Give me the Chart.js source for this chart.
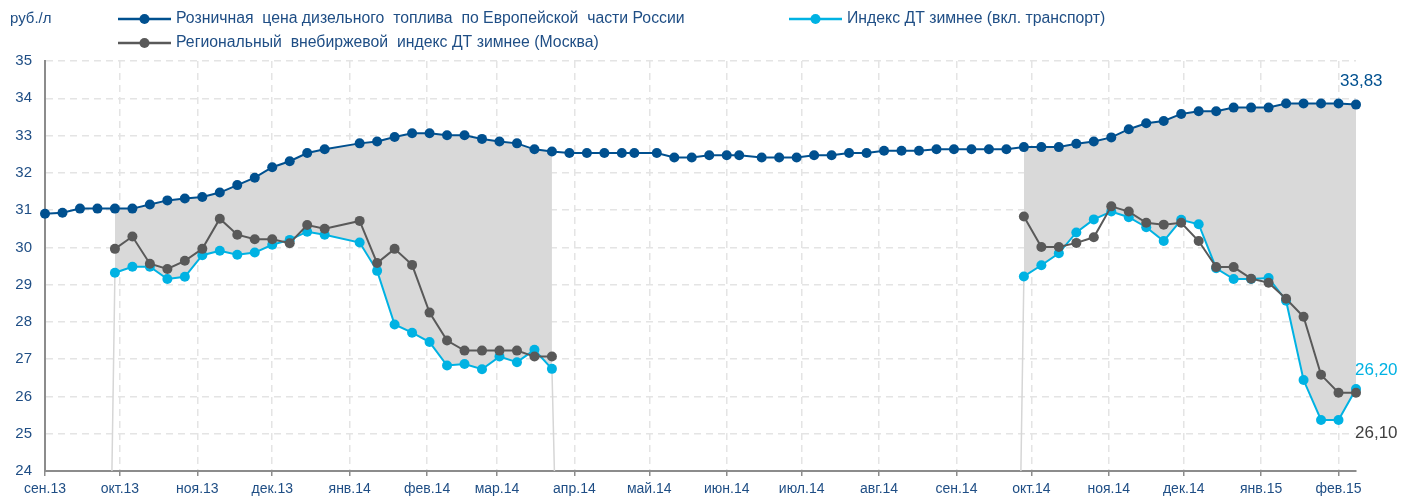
<!DOCTYPE html>
<html>
<head>
<meta charset="utf-8">
<script src="https://cdn.jsdelivr.net/npm/chart.js@4.4.1/dist/chart.umd.min.js"></script>
<style>
  html, body { margin: 0; padding: 0; background: #fff; }
  #wrap { width: 1405px; height: 501px; position: relative; }
</style>
</head>
<body>
<div id="wrap"><canvas id="chart"></canvas></div>
<script>
// Weekly fuel prices, rub/l (Sep 2013 - Feb 2015)

const dates = [
    '01.09.13', '08.09.13', '15.09.13', '22.09.13', '29.09.13', '06.10.13', '13.10.13', '20.10.13', '27.10.13',
    '03.11.13', '10.11.13', '17.11.13', '24.11.13', '01.12.13', '08.12.13', '15.12.13', '22.12.13',
    '05.01.14', '12.01.14', '19.01.14', '26.01.14', '02.02.14', '09.02.14', '16.02.14', '23.02.14',
    '02.03.14', '09.03.14', '16.03.14', '23.03.14', '30.03.14', '06.04.14', '13.04.14', '20.04.14', '25.04.14',
    '04.05.14', '11.05.14', '18.05.14', '25.05.14', '01.06.14', '06.06.14', '15.06.14', '22.06.14', '29.06.14',
    '06.07.14', '13.07.14', '20.07.14', '27.07.14', '03.08.14', '10.08.14', '17.08.14', '24.08.14', '31.08.14',
    '07.09.14', '14.09.14', '21.09.14', '28.09.14', '05.10.14', '12.10.14', '19.10.14', '26.10.14',
    '02.11.14', '09.11.14', '16.11.14', '23.11.14', '30.11.14', '07.12.14', '14.12.14', '21.12.14', '28.12.14',
    '04.01.15', '11.01.15', '18.01.15', '25.01.15', '01.02.15', '08.02.15'
];

const retail = [
    30.90, 30.93, 31.04, 31.04, 31.04, 31.04, 31.15, 31.26, 31.31,
    31.35, 31.47, 31.67, 31.87, 32.15, 32.31, 32.53, 32.63,
    32.79, 32.84, 32.96, 33.06, 33.06, 33.01, 33.01, 32.91,
    32.84, 32.79, 32.63, 32.57, 32.53, 32.53, 32.53, 32.53, 32.53,
    32.53, 32.41, 32.41, 32.47, 32.47, 32.47, 32.41, 32.41, 32.41,
    32.47, 32.47, 32.53, 32.53, 32.59, 32.59, 32.59, 32.63, 32.63,
    32.63, 32.63, 32.63, 32.69, 32.69, 32.69, 32.78, 32.84,
    32.95, 33.17, 33.33, 33.39, 33.58, 33.65, 33.65, 33.75, 33.75,
    33.75, 33.86, 33.86, 33.86, 33.86, 33.83
];

// winter index, two seasons
const season1Start = '29.09.13';
const season2Start = '28.09.14';

const cyan1 = [
    29.32, 29.48, 29.48, 29.15, 29.21, 29.79, 29.91, 29.80, 29.86, 30.07, 30.20, 30.42, 30.34,
    30.13, 29.37, 27.93, 27.71, 27.46, 26.83, 26.87, 26.73, 27.07, 26.92, 27.25, 26.74
];
const cyan2 = [
    29.22, 29.52, 29.84, 30.40, 30.75, 30.96, 30.81, 30.54, 30.17, 30.74,
    30.62, 29.44, 29.15, 29.15, 29.18, 28.57, 26.44, 25.37, 25.37, 26.20
];

const gray1 = [
    29.96, 30.29, 29.56, 29.42, 29.64, 29.96, 30.77, 30.34, 30.22, 30.22, 30.11, 30.60, 30.50,
    30.71, 29.58, 29.96, 29.53, 28.25, 27.50, 27.23, 27.23, 27.23, 27.23, 27.07, 27.07
];
const gray2 = [
    30.83, 30.01, 30.01, 30.12, 30.27, 31.10, 30.96, 30.66, 30.61, 30.66,
    30.17, 29.47, 29.47, 29.16, 29.05, 28.62, 28.14, 26.58, 26.10, 26.10
];

const monthStarts = [
    '01.09.13', '01.10.13', '01.11.13', '01.12.13', '01.01.14', '01.02.14', '01.03.14', '01.04.14', '01.05.14',
    '01.06.14', '01.07.14', '01.08.14', '01.09.14', '01.10.14', '01.11.14', '01.12.14', '01.01.15', '01.02.15'
];
const monthLabels = [
    'сен.13', 'окт.13', 'ноя.13', 'дек.13', 'янв.14', 'фев.14', 'мар.14', 'апр.14', 'май.14',
    'июн.14', 'июл.14', 'авг.14', 'сен.14', 'окт.14', 'ноя.14', 'дек.14', 'янв.15', 'фев.15'
];

const yTicks = [24, 25, 26, 27, 28, 29, 30, 31, 32, 33, 34, 35];

const seriesNames = [
    'Розничная  цена дизельного  топлива  по Европейской  части России',
    'Региональный  внебиржевой  индекс ДТ зимнее (Москва)',
    'Индекс ДТ зимнее (вкл. транспорт)'
];

const unitLabel = 'руб./л';

const COLOR_RETAIL = '#00508f';
const COLOR_CYAN = '#00b2e3';
const COLOR_GRAY = '#595959';
const COLOR_FILL = '#d9d9d9';
const COLOR_TEXT = '#1f4e85';
const FONT = '"Liberation Sans", Arial, sans-serif';

function toDay(s) {
    const [d, m, y] = s.split('.').map(Number);
    return (Date.UTC(2000 + y, m - 1, d) - Date.UTC(2013, 8, 1)) / 86400000;
}

// spread a season onto the full weekly date list
function placeSeason(parts) {
    const out = dates.map(() => null);
    parts.forEach(([start, values]) => {
        const i0 = dates.indexOf(start);
        values.forEach((v, k) => { out[i0 + k] = v; });
    });
    return out;
}

const cyanFull = placeSeason([[season1Start, cyan1], [season2Start, cyan2]]);
const grayFull = placeSeason([[season1Start, gray1], [season2Start, gray2]]);
const bandFull = cyanFull.map((v, i) => v === null ? null : retail[i]);

const toPoints = arr => dates.map((d, i) => ({ x: toDay(d), y: arr[i] }));

// thin edge lines at start/end of each season, down to axis minimum
const yMin = yTicks[0];
const edgePoints = [];
[[season1Start, cyan1], [season2Start, cyan2]].forEach(([start, values]) => {
    const i0 = dates.indexOf(start);
    const i1 = i0 + values.length - 1;
    const d0 = toDay(dates[i0]);
    const d1 = toDay(dates[i1]);
    edgePoints.push({ x: d0 - 1.2, y: yMin }, { x: d0, y: values[0] }, { x: d0, y: null });
    edgePoints.push({ x: d1, y: values[values.length - 1] }, { x: d1 + 1, y: yMin }, { x: d1 + 1, y: null });
});

const monthDays = monthStarts.map(toDay);
const lastDay = toDay(dates[dates.length - 1]);

const decorPlugin = {
    id: 'decor',
    afterDraw(chart) {
        const ctx = chart.ctx;
        ctx.save();
        ctx.textBaseline = 'middle';
        ctx.textAlign = 'left';
        ctx.font = '15px ' + FONT;
        ctx.fillStyle = COLOR_TEXT;
        ctx.fillText(unitLabel, 10, 19);

        const items = [
            { x: 118, y: 19, color: COLOR_RETAIL, text: seriesNames[0] },
            { x: 789, y: 19, color: COLOR_CYAN, text: seriesNames[2] },
            { x: 118, y: 43, color: COLOR_GRAY, text: seriesNames[1] }
        ];
        items.forEach(it => {
            ctx.strokeStyle = it.color;
            ctx.lineWidth = 2.5;
            ctx.beginPath();
            ctx.moveTo(it.x, it.y);
            ctx.lineTo(it.x + 53, it.y);
            ctx.stroke();
            ctx.fillStyle = it.color;
            ctx.beginPath();
            ctx.arc(it.x + 26.5, it.y, 5, 0, Math.PI * 2);
            ctx.fill();
            ctx.fillStyle = COLOR_TEXT;
            ctx.font = '15.8px ' + FONT;
            ctx.fillText(it.text, it.x + 58, it.y);
        });

        // end values
        const fmt = v => v.toFixed(2).replace('.', ',');
        const last = dates.length - 1;
        const lab = [
            { ds: 0, v: retail[last], color: COLOR_RETAIL, dx: -16, dy: -23 },
            { ds: 2, v: cyanFull[last], color: COLOR_CYAN, dx: -1, dy: -19 },
            { ds: 1, v: grayFull[last], color: '#404040', dx: -1, dy: 41 }
        ];
        ctx.font = '17px ' + FONT;
        lab.forEach(l => {
            const pt = chart.getDatasetMeta(l.ds).data[last];
            ctx.fillStyle = l.color;
            ctx.fillText(fmt(l.v), pt.x + l.dx, pt.y + l.dy);
        });
        ctx.restore();
    }
};

const lineStyle = color => ({
    borderColor: color,
    backgroundColor: color,
    borderWidth: 2,
    pointRadius: 5,
    pointBorderWidth: 0,
    pointBackgroundColor: color,
    tension: 0,
    spanGaps: false,
    fill: false,
    clip: false
});

new Chart(document.getElementById('chart'), {
    type: 'line',
    data: {
        datasets: [
            { label: seriesNames[0], data: toPoints(retail), ...lineStyle(COLOR_RETAIL) },
            { label: seriesNames[1], data: toPoints(grayFull), ...lineStyle(COLOR_GRAY) },
            { label: seriesNames[2], data: toPoints(cyanFull), ...lineStyle(COLOR_CYAN) },
            {
                label: 'band', data: toPoints(bandFull),
                borderColor: 'transparent', borderWidth: 1, pointRadius: 0,
                backgroundColor: COLOR_FILL, fill: 2, spanGaps: false, tension: 0
            },
            {
                label: 'edges', data: edgePoints,
                borderColor: '#d6d6d6', borderWidth: 1.5, pointRadius: 0,
                fill: false, spanGaps: false, tension: 0
            }
        ]
    },
    options: {
        responsive: true,
        maintainAspectRatio: false,
        animation: false,
        layout: { padding: { top: 61, right: 49, left: 0, bottom: 0 } },
        plugins: {
            legend: { display: false },
            tooltip: { enabled: false }
        },
        scales: {
            x: {
                type: 'linear',
                min: 0,
                max: lastDay,
                afterBuildTicks: scale => { scale.ticks = monthDays.map(v => ({ value: v })); },
                afterFit: scale => { scale.height = 30; },
                ticks: {
                    autoSkip: false,
                    maxRotation: 0,
                    padding: 5,
                    color: COLOR_TEXT,
                    font: { family: FONT, size: 14 },
                    callback: value => monthLabels[monthDays.indexOf(value)]
                },
                grid: {
                    color: '#e4e4e4',
                    lineWidth: 1.5,
                    drawTicks: true,
                    tickLength: 5,
                    tickColor: '#8c8c8c',
                    tickWidth: 1.5
                },
                border: { display: true, color: '#8c8c8c', width: 2, dash: [7, 5] }
            },
            y: {
                min: yTicks[0],
                max: yTicks[yTicks.length - 1],
                afterBuildTicks: scale => { scale.ticks = yTicks.map(v => ({ value: v })); },
                afterFit: scale => { scale.width = 45; },
                ticks: {
                    padding: 13,
                    color: COLOR_TEXT,
                    font: { family: FONT, size: 15 }
                },
                grid: { color: '#e4e4e4', lineWidth: 1.5, drawTicks: false },
                border: { display: true, color: '#8c8c8c', width: 2, dash: [7, 5] }
            }
        }
    },
    plugins: [decorPlugin]
});
</script>
</body>
</html>
